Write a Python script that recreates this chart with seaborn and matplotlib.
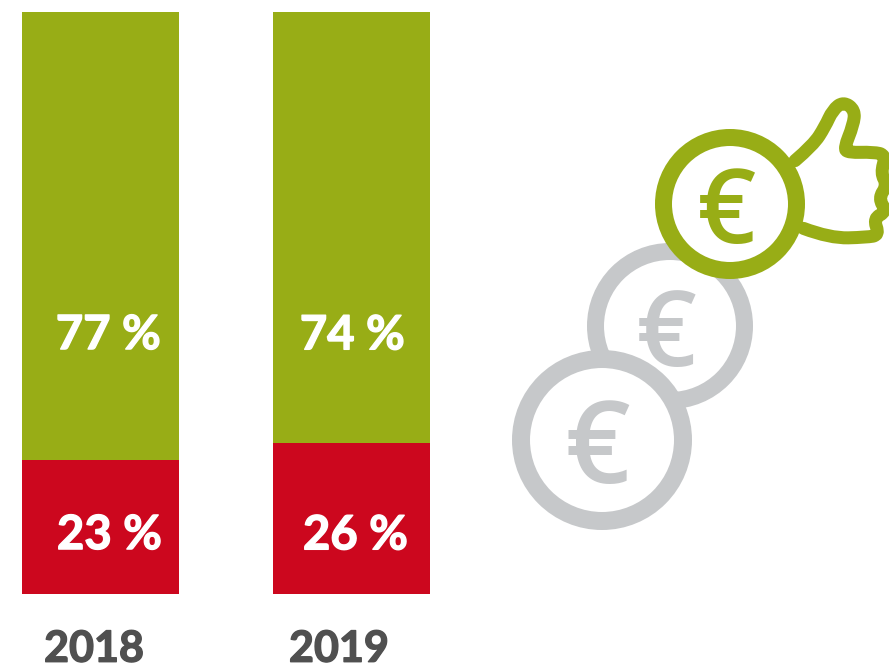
import matplotlib
matplotlib.use("Agg")
import matplotlib.pyplot as plt
import matplotlib.transforms as mtransforms
import matplotlib.patheffects as pe
from matplotlib.patches import Circle, PathPatch
from matplotlib.path import Path
import seaborn as sns

# ---- data ----
years = ["2018", "2019"]
share_green = [77, 74]
share_red = [23, 26]
green_labels = ["77 %", "74 %"]
red_labels = ["23 %", "26 %"]

GREEN = "#98AD16"
RED = "#CC071E"
GREY = "#C6C8CA"
DARK = "#505050"
FONT = "Lato"

W, H = 889, 666
PX = 72 / 100
sns.set_theme(style="white")
plt.rcParams["font.family"] = [FONT, "DejaVu Sans"]

fig = plt.figure(figsize=(W / 100, H / 100), dpi=100, facecolor="white")
ax = fig.add_axes([0, (H - 594) / H, 1, (594 - 12) / H])
bar_w = 157 / 251
sns.barplot(x=years, y=share_red, color=RED, saturation=1, width=bar_w, ax=ax, linewidth=0)
sns.barplot(x=years, y=share_green, bottom=share_red, color=GREEN, saturation=1,
            width=bar_w, ax=ax, linewidth=0)
ax.set_xlim(-100.5 / 251, (W - 100.5) / 251)
ax.set_ylim(0, 100)
ax.set_yticks([])
ax.patch.set_alpha(0)
for s in ax.spines.values():
    s.set_visible(False)
ax.tick_params(axis="x", length=0, pad=25)
tick_shift_px = [-6.5, -12.5]
for lab, dx in zip(ax.get_xticklabels(), tick_shift_px):
    lab.set_fontsize(31)
    lab.set_fontweight("bold")
    lab.set_color(DARK)
    lab.set_path_effects([pe.withStroke(linewidth=1.0, foreground=DARK)])
    lab.set_transform(lab.get_transform() + mtransforms.Affine2D().translate(dx, 0))

# label offsets from the segment centre, in pixels (x right, y down)
green_off = [(8, 99), (1, 108)]
red_off = [(9, 8), (4, 17)]
stroke = [pe.withStroke(linewidth=1.0, foreground="white")]
for i in range(len(years)):
    for text, yc, off in ((green_labels[i], share_red[i] + share_green[i] / 2, green_off[i]),
                          (red_labels[i], share_red[i] / 2, red_off[i])):
        ax.annotate(text, (i, yc), xycoords="data",
                    xytext=(off[0] * PX, -off[1] * PX), textcoords="offset points",
                    ha="center", va="center", color="white", fontsize=34,
                    fontweight="bold", path_effects=stroke)

# ---- decorative coin icons, in pixel coordinates ----
ic = fig.add_axes([0, 0, 1, 1])
ic.set_xlim(0, W)
ic.set_ylim(H, 0)
ic.axis("off")
ic.patch.set_alpha(0)


def thumb_pt(p):
    return 640 + p[0] / 3, 90 + p[1] / 3


thumb = [(465, 212), (520, 165), (555, 110), (578, 60), (610, 35), (645, 60), (640, 105),
         (612, 175), (625, 188), (700, 186), (738, 195), (722, 250), (742, 285), (715, 325),
         (740, 365), (700, 385), (718, 435), (680, 442), (570, 445), (490, 415)]
pts = [thumb_pt(p) for p in thumb]
verts = [pts[0]]
codes = [Path.MOVETO]
for a, b in zip(pts[1:-1], pts[2:]):
    end = b if b is pts[-1] else ((a[0] + b[0]) / 2, (a[1] + b[1]) / 2)
    verts += [a, end]
    codes += [Path.CURVE3, Path.CURVE3]
ic.add_patch(PathPatch(Path(verts, codes), fill=False, ec=GREEN, lw=13 * PX,
                       joinstyle="round", capstyle="round"))


def coin(cx, cy, r_out, r_in, col, size, ex, ey):
    ic.add_patch(Circle((cx, cy), (r_out + r_in) / 2, fc="white", ec=col,
                        lw=(r_out - r_in) * PX))
    ic.text(ex, ey, "€", color=col, fontsize=size, ha="center", va="center_baseline",
            family="Open Sans", fontweight="semibold")


coin(670, 326, 83, 66, GREY, 76, 666, 326)
coin(602, 440, 90, 72, GREY, 82, 598, 440)
coin(730, 204, 75, 58, GREEN, 74, 727, 203)

fig.savefig("out.png", dpi=100, facecolor="white")
